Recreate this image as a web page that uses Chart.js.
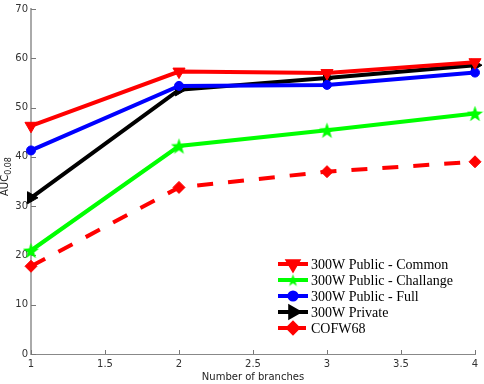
<!DOCTYPE html>
<html>
<head>
<meta charset="utf-8">
<script src="https://cdn.jsdelivr.net/npm/chart.js@4.4.0/dist/chart.umd.min.js"></script>
<style>
html, body { margin: 0; padding: 0; background: #fff; }
</style>
</head>
<body>
<canvas id="chart" width="484" height="384"></canvas>
<script>
// data
var branches = [1, 2, 3, 4];
var commonAuc = [46.3, 57.3, 57.0, 59.2];
var challengeAuc = [21.0, 42.2, 45.4, 48.8];
var fullAuc = [41.3, 54.4, 54.6, 57.1];
var privateAuc = [31.7, 53.6, 56.0, 58.6];
var cofwAuc = [17.8, 33.8, 37.0, 39.0];
var seriesNames = ["300W Public - Common", "300W Public - Challange", "300W Public - Full", "300W Private", "COFW68"];
var xTicks = [1, 1.5, 2, 2.5, 3, 3.5, 4];
var yTicks = [0, 10, 20, 30, 40, 50, 60, 70];

// filled pentagram for the green series
function makeStar(color, size) {
    var c = document.createElement("canvas");
    c.width = size; c.height = size;
    var g = c.getContext("2d");
    var cx = size / 2, cy = size / 2 + size * 0.05, R = size / 2, r = R * 0.4;
    g.beginPath();
    for (var i = 0; i < 10; i++) {
        var rad = (i % 2 == 0) ? R : r;
        var a = -Math.PI / 2 + i * Math.PI / 5;
        g.lineTo(cx + rad * Math.cos(a), cy + rad * Math.sin(a));
    }
    g.closePath();
    g.fillStyle = color;
    g.fill();
    return c;
}
var starImg = makeStar("#00ff00", 17);
var starSmall = makeStar("#00ff00", 13);

function toPoints(vals) {
    var pts = [];
    for (var i = 0; i < vals.length; i++) pts.push({x: branches[i], y: vals[i]});
    return pts;
}

function series(name, vals, color, style, radius, rotation, dash) {
    return {
        label: name,
        data: toPoints(vals),
        borderColor: color,
        backgroundColor: color,
        pointBackgroundColor: color,
        pointBorderColor: color,
        borderWidth: 4,
        borderDash: dash || [],
        pointStyle: style,
        pointRadius: radius,
        pointHoverRadius: radius,
        pointRotation: rotation,
        pointBorderWidth: 1,
        tension: 0,
        clip: false
    };
}

var datasets = [
    series(seriesNames[0], commonAuc, "#ff0000", "triangle", 7, 180),
    series(seriesNames[1], challengeAuc, "#00ff00", starImg, 8, 0),
    series(seriesNames[2], fullAuc, "#0000ff", "circle", 4.5, 0),
    series(seriesNames[3], privateAuc, "#000000", "triangle", 7, 90),
    series(seriesNames[4], cofwAuc, "#ff0000", "rectRot", 6, 0, [16, 15])
];

// matlab style ticks pointing into the plot
var innerTicks = {
    id: "innerTicks",
    beforeDatasetsDraw: function(chart) {
        var ctx = chart.ctx, xs = chart.scales.x, ys = chart.scales.y;
        var area = chart.chartArea;
        ctx.save();
        ctx.strokeStyle = "#777";
        ctx.lineWidth = 1;
        ctx.beginPath();
        xTicks.forEach(function(v) {
            var px = Math.round(xs.getPixelForValue(v)) + 0.5;
            ctx.moveTo(px, area.bottom);
            ctx.lineTo(px, area.bottom - 4);
        });
        yTicks.forEach(function(v) {
            var py = Math.round(ys.getPixelForValue(v)) + 0.5;
            ctx.moveTo(area.left, py);
            ctx.lineTo(area.left + 5, py);
        });
        ctx.stroke();
        ctx.restore();
    }
};

// y label with subscript
var yLabel = {
    id: "yLabel",
    afterDraw: function(chart) {
        var ctx = chart.ctx;
        ctx.save();
        ctx.translate(8, 196);
        ctx.rotate(-Math.PI / 2);
        ctx.fillStyle = "#222";
        ctx.textBaseline = "alphabetic";
        ctx.textAlign = "left";
        ctx.font = "10px 'DejaVu Sans', sans-serif";
        ctx.fillText("AUC", 0, 0);
        var w = ctx.measureText("AUC").width;
        ctx.font = "8px 'DejaVu Sans', sans-serif";
        ctx.fillText("0.08", w, 3);
        ctx.restore();
    }
};

// legend at bottom right, line sample with a smaller marker
var lineLegend = {
    id: "lineLegend",
    afterDraw: function(chart) {
        var ctx = chart.ctx;
        var x0 = 278, x1 = 308, y0 = 264, step = 16;
        ctx.save();
        chart.data.datasets.forEach(function(ds, i) {
            var y = y0 + i * step;
            ctx.strokeStyle = ds.borderColor;
            ctx.lineWidth = ds.borderWidth;
            ctx.setLineDash(ds.borderDash.length ? [10, 8] : []);
            ctx.beginPath();
            ctx.moveTo(x0, y);
            ctx.lineTo(x1, y);
            ctx.stroke();
            ctx.setLineDash([]);
            ctx.fillStyle = ds.pointBackgroundColor;
            ctx.strokeStyle = ds.pointBorderColor;
            Chart.helpers.drawPoint(ctx, {
                pointStyle: ds.pointStyle === starImg ? starSmall : ds.pointStyle,
                radius: ds.pointRadius * 0.8,
                rotation: ds.pointRotation,
                borderWidth: 1
            }, (x0 + x1) / 2, y);
            ctx.fillStyle = "#000";
            ctx.font = "14px 'Liberation Serif', serif";
            ctx.textBaseline = "middle";
            ctx.fillText(ds.label, x1 + 3, y + 1);
        });
        ctx.restore();
    }
};

var chart = new Chart(document.getElementById("chart").getContext("2d"), {
    type: "line",
    data: { datasets: datasets },
    options: {
        responsive: false,
        animation: false,
        layout: { padding: { top: 3, right: 6, left: 0, bottom: 0 } },
        plugins: { legend: { display: false }, tooltip: { enabled: false } },
        scales: {
            x: {
                type: "linear",
                min: 1, max: 4,
                afterBuildTicks: function(scale) {
                    scale.ticks = xTicks.map(function(v) { return {value: v}; });
                },
                afterFit: function(scale) {
                    scale.height = 30;
                    scale.paddingLeft = 0;
                    scale.paddingRight = 0;
                },
                grid: { display: false, drawTicks: false },
                border: { display: true, color: "#888", width: 1 },
                ticks: {
                    padding: 4,
                    maxRotation: 0,
                    autoSkip: false,
                    color: "#333",
                    font: { family: "'DejaVu Sans', sans-serif", size: 10 },
                    callback: function(v) { return String(v); }
                },
                title: {
                    display: true,
                    text: "Number of branches",
                    color: "#222",
                    font: { family: "'DejaVu Sans', sans-serif", size: 10 },
                    padding: { top: 0, bottom: 1 }
                }
            },
            y: {
                min: 0, max: 70,
                afterBuildTicks: function(scale) {
                    scale.ticks = yTicks.map(function(v) { return {value: v}; });
                },
                afterFit: function(scale) {
                    scale.width = 31;
                    scale.paddingTop = 0;
                    scale.paddingBottom = 0;
                },
                grid: { display: false, drawTicks: false },
                border: { display: true, color: "#aaa", width: 2 },
                ticks: {
                    padding: 3,
                    color: "#333",
                    font: { family: "'DejaVu Sans', sans-serif", size: 10 },
                    callback: function(v) { return String(v); }
                }
            }
        }
    },
    plugins: [innerTicks, yLabel, lineLegend]
});
</script>
</body>
</html>
